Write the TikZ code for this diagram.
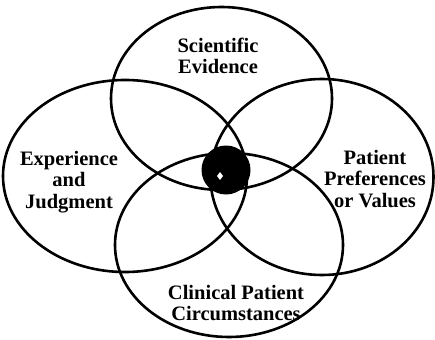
\documentclass[tikz,border=0pt]{standalone}
\usepackage{fontspec}
\setmainfont{Liberation Serif}
\begin{document}
\begin{tikzpicture}[x=1pt,y=-1pt,
  ring/.style={draw=black,line width=2.6pt},
  lbl/.style={font=\bfseries\fontsize{20.5}{21.5}\selectfont,align=center,inner sep=0pt}]
\useasboundingbox[fill=white] (0,0) rectangle (435,339);
\draw[ring] (221.5,98.5) ellipse [x radius=110.5pt,y radius=91.5pt];
\draw[ring] (125,176) ellipse [x radius=122pt,y radius=96pt];
\draw[ring] (322,177) ellipse [x radius=111.5pt,y radius=98pt];
\draw[ring] (229,245) ellipse [x radius=114pt,y radius=92pt];
\fill[black] (226,170) circle [radius=24.5pt];
\fill[white] (220,172) -- (223,176) -- (220,180) -- (217,176) -- cycle;
\node[lbl] (sci) at (218,56) {Scientific\\Evidence};
\node[lbl] (exp) at (69,182) {Experience\\and\\Judgment};
\node[lbl] (pat) at (375,179) {Patient\\Preferences\\or Values};
\node[lbl] (cli) at (236,303) {Clinical Patient\\Circumstances};
\end{tikzpicture}
\end{document}
